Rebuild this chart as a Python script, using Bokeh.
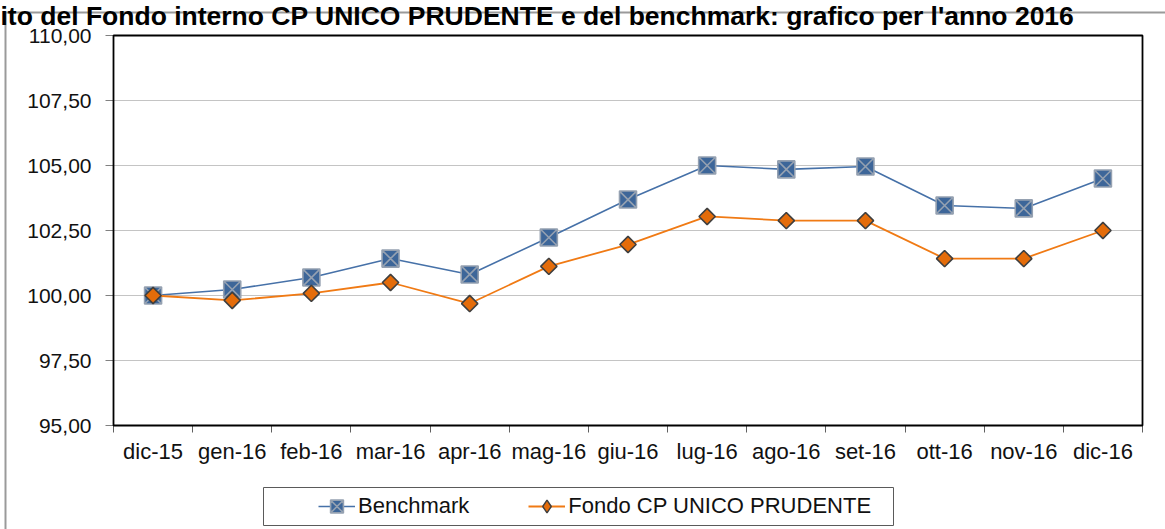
from bokeh.plotting import figure
from bokeh.models import (Range1d, FixedTicker, CustomJSTickFormatter, BoxAnnotation,
                          Label, Legend, LegendItem)
from bokeh.embed import file_html
from bokeh.resources import INLINE
import numpy as np

# ---- data ----
months = ["dic-15", "gen-16", "feb-16", "mar-16", "apr-16", "mag-16", "giu-16",
          "lug-16", "ago-16", "set-16", "ott-16", "nov-16", "dic-16"]
benchmark = [100.00, 100.23, 100.69, 101.42, 100.81, 102.23, 103.69,
             105.00, 104.85, 104.96, 103.46, 103.35, 104.50]
fondo = [100.00, 99.81, 100.08, 100.50, 99.69, 101.12, 101.96,
         103.04, 102.88, 102.88, 101.42, 101.42, 102.50]
y_ticks = [95.0, 97.5, 100.0, 102.5, 105.0, 107.5, 110.0]
title_text = "ito del Fondo interno CP UNICO PRUDENTE e del benchmark: grafico per l'anno 2016"

FONT = "Liberation Sans"
W, H = 1165, 529
# plot-area placement inside the canvas (pixels)
PL, PR, PT, PB = 113, 1142, 35, 425

n = len(months)
xs = list(range(n))
x0, x1 = -0.5, n - 0.5
y0, y1 = y_ticks[0], y_ticks[-1]
xpp = (PR - PL) / (x1 - x0)
ypp = (PB - PT) / (y1 - y0)
x_range = Range1d(x0 - PL / xpp, x1 + (W - PR) / xpp)
y_range = Range1d(y0 - (H - PB) / ypp, y1 + PT / ypp)

p = figure(width=W, height=H, output_backend="svg", toolbar_location=None,
           x_range=x_range, y_range=y_range,
           min_border_left=0, min_border_right=0, min_border_top=0, min_border_bottom=0)
p.background_fill_color = "white"
p.border_fill_color = "white"
p.outline_line_color = None
p.grid.grid_line_color = None

# horizontal grid lines limited to the plot area
p.segment(x0=[x0] * len(y_ticks), x1=[x1] * len(y_ticks), y0=y_ticks, y1=y_ticks,
          line_color="#C4C4C4", line_width=1)

# y axis
ya = p.yaxis[0]
ya.fixed_location = x0
ya.bounds = (y0, y1)
ya.ticker = FixedTicker(ticks=y_ticks, minor_ticks=[])
ya.formatter = CustomJSTickFormatter(code="return tick.toFixed(2).replace('.', ',');")
ya.axis_line_color = None
ya.major_tick_line_color = "#808080"
ya.major_tick_out = 8
ya.major_tick_in = 0
ya.minor_tick_line_color = None
ya.major_label_standoff = 14
ya.major_label_text_font = FONT
ya.major_label_text_font_size = "21px"
ya.major_label_text_color = "#111111"

# x axis
xa = p.xaxis[0]
xa.fixed_location = y0
xa.bounds = (x0, x1)
xa.ticker = FixedTicker(ticks=xs, minor_ticks=[i - 0.5 for i in range(n + 1)])
xa.major_label_overrides = {i: m for i, m in enumerate(months)}
xa.axis_line_color = None
xa.major_tick_line_color = None
xa.major_tick_out = 0
xa.major_tick_in = 0
xa.minor_tick_line_color = "#606060"
xa.minor_tick_out = 7
xa.minor_tick_in = 0
xa.major_label_standoff = 6
xa.major_label_text_font = FONT
xa.major_label_text_font_size = "22px"
xa.major_label_text_color = "#111111"

# outer chart border (left and top edges visible)
p.add_layout(BoxAnnotation(left=5, right=W + 60, top=H - 12, bottom=-60,
                           left_units="screen", right_units="screen",
                           top_units="screen", bottom_units="screen",
                           fill_color=None, line_color="#9A9A9A", line_alpha=1.0,
                           line_width=2))
# plot area outline
p.add_layout(BoxAnnotation(left=x0, right=x1, bottom=y0, top=y1, fill_color=None,
                           line_color="black", line_alpha=1.0, line_width=1.8))
# legend box
p.add_layout(BoxAnnotation(left=263, right=893, top=H - 487, bottom=H - 525,
                           left_units="screen", right_units="screen",
                           top_units="screen", bottom_units="screen",
                           fill_color="white", fill_alpha=1.0,
                           line_color="#5A5A5A", line_alpha=1.0, line_width=1))

# series
l1 = p.line(xs, benchmark, line_color="#4671A8", line_width=1.6)
s1 = p.scatter(xs, benchmark, marker="square_x", size=17, fill_color="#3D6699",
               line_color="#95A1B1", line_width=1.6)
l2 = p.line(xs, fondo, line_color="#F07A14", line_width=1.8)
# diamond used for the legend key (sits hidden under the rotated squares)
s2k = p.scatter(xs, fondo, marker="diamond", size=12, fill_color="#E46C0A",
                line_color="#3F3F3F", line_width=1.4)
s2 = p.scatter(xs, fondo, marker="square", angle=np.pi / 4, size=11.5,
               fill_color="#E46C0A", line_color="#3F3F3F", line_width=1.6)

p.add_layout(Label(x=0, y=H - 15, x_units="screen", y_units="screen", text=title_text,
                   text_font=FONT, text_font_style="bold", text_font_size="26.5px",
                   text_color="black", text_baseline="alphabetic"))

legend = Legend(items=[LegendItem(label="Benchmark", renderers=[l1, s1]),
                       LegendItem(label="Fondo CP UNICO PRUDENTE", renderers=[l2, s2k])],
                location=(318, H - 522), orientation="horizontal",
                padding=0, margin=0, spacing=59, label_standoff=3,
                glyph_width=37, glyph_height=32, label_height=24,
                border_line_color=None, background_fill_alpha=0,
                label_text_font=FONT, label_text_font_size="22px",
                label_text_color="#111111")
p.add_layout(legend)

open("out.html", "w").write(file_html(p, INLINE))
